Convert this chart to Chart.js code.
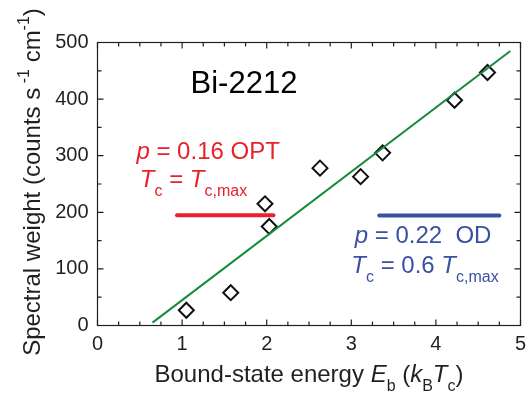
<!DOCTYPE html>
<html>
<head>
<meta charset="utf-8">
<script src="https://cdn.jsdelivr.net/npm/chart.js@4"></script>
<style>
  html, body { margin: 0; padding: 0; background: #fff; }
</style>
</head>
<body>
<canvas id="chart" width="531" height="393"></canvas>
<script>
// measured points
const energy = [1.05, 1.575, 1.98, 2.03, 2.63, 3.11, 3.37, 4.22, 4.61];
const weight = [27, 58, 215, 175, 278, 263, 305, 398, 447];

// linear fit drawn across the data
const fitX = [0.65, 4.88];
const fitY = [5, 485];

// the two reference bars
const optX = [0.94, 2.08];
const optY = [195, 195];
const odX = [3.33, 4.75];
const odY = [194.5, 194.5];

const xTicks = [0, 1, 2, 3, 4, 5];
const yTicks = [0, 100, 200, 300, 400, 500];
const xMinorStep = 0.25;
const yMinorStep = 50;

const INK = '#231f20';
const RED = '#e8212b';
const BLUE = '#3a51a3';
const GREEN = '#178a3d';
const FONT = '"Liberation Sans", Arial, Helvetica, sans-serif';

function pairs(xs, ys) {
  return xs.map((v, i) => ({x: v, y: ys[i]}));
}

// rich text: parts are [text, style], style in '', 'i', 'sub', 'sup'
function fontFor(s, size) {
  const small = s.indexOf('sub') >= 0 || s.indexOf('sup') >= 0;
  const italic = s.indexOf('i') === 0;
  return (italic ? 'italic ' : '') + (small ? Math.round(size * 0.68) : size) + 'px ' + FONT;
}
function richWidth(ctx, parts, size) {
  let w = 0;
  parts.forEach(([t, s]) => {
    ctx.font = fontFor(s, size);
    w += ctx.measureText(t).width;
  });
  return w;
}
function drawRich(ctx, parts, x, y, size, color) {
  ctx.fillStyle = color;
  ctx.textBaseline = 'alphabetic';
  ctx.textAlign = 'left';
  let cx = x;
  parts.forEach(([t, s]) => {
    ctx.font = fontFor(s, size);
    let dy = 0;
    if (s.indexOf('sub') >= 0) dy = size * 0.36;
    if (s.indexOf('sup') >= 0) dy = -size * 0.45;
    ctx.fillText(t, cx, y + dy);
    cx += ctx.measureText(t).width;
  });
}

const notes = [
  {x: 1.10, y: 411, size: 31, color: '#000', parts: [['Bi-2212', '']]},
  {x: 0.46, y: 295, size: 24, color: RED, parts: [['p', 'i'], [' = 0.16 OPT', '']]},
  {x: 0.50, y: 244, size: 24, color: RED, parts: [['T', 'i'], ['c', 'sub'], [' = ', ''], ['T', 'i'], ['c,max', 'sub']]},
  {x: 3.04, y: 145, size: 24, color: BLUE, parts: [['p', 'i'], [' = 0.22  OD', '']]},
  {x: 3.00, y: 92, size: 24, color: BLUE, parts: [['T', 'i'], ['c', 'sub'], [' = 0.6 ', ''], ['T', 'i'], ['c,max', 'sub']]}
];

const xTitle = [['Bound-state energy ', ''], ['E', 'i'], ['b', 'sub'], [' (', ''], ['k', 'i'], ['B', 'sub'], ['T', 'i'], ['c', 'sub'], [')', '']];
const yTitle = [['Spectral weight (counts s', ''], [' -1', 'sup'], [' cm', ''], ['-1', 'sup'], [')', '']];

const frame = {
  id: 'frame',
  beforeDatasetsDraw(chart) {
    const {ctx, chartArea: a, scales: {x, y}} = chart;
    ctx.save();
    ctx.strokeStyle = INK;
    ctx.lineWidth = 1.2;
    ctx.strokeRect(a.left, a.top, a.right - a.left, a.bottom - a.top);
    ctx.beginPath();
    for (let v = x.min; v <= x.max + 1e-9; v += xMinorStep) {
      const px = x.getPixelForValue(v);
      const len = xTicks.includes(v) ? 6 : 4;
      ctx.moveTo(px, a.bottom); ctx.lineTo(px, a.bottom - len);
      ctx.moveTo(px, a.top); ctx.lineTo(px, a.top + len);
    }
    for (let v = y.min; v <= y.max + 1e-9; v += yMinorStep) {
      const py = y.getPixelForValue(v);
      const len = yTicks.includes(v) ? 6 : 4;
      ctx.moveTo(a.left, py); ctx.lineTo(a.left + len, py);
      ctx.moveTo(a.right, py); ctx.lineTo(a.right - len, py);
    }
    ctx.stroke();
    ctx.restore();
  },
  afterDraw(chart) {
    const {ctx, chartArea: a, scales: {x, y}} = chart;
    ctx.save();
    notes.forEach(n => {
      drawRich(ctx, n.parts, x.getPixelForValue(n.x), y.getPixelForValue(n.y), n.size, n.color);
    });

    // axis titles
    const ts = 24;
    const xw = richWidth(ctx, xTitle, ts);
    drawRich(ctx, xTitle, (a.left + a.right) / 2 - xw / 2, 382, ts, INK);

    const yw = richWidth(ctx, yTitle, ts);
    ctx.translate(40, (a.top + a.bottom) / 2 - 2);
    ctx.rotate(-Math.PI / 2);
    drawRich(ctx, yTitle, -yw / 2, 0, ts, INK);
    ctx.restore();
  }
};

new Chart(document.getElementById('chart'), {
  type: 'scatter',
  data: {
    datasets: [
      {
        data: pairs(fitX, fitY),
        showLine: true,
        borderColor: GREEN,
        borderWidth: 2,
        pointRadius: 0
      },
      {
        data: pairs(optX, optY),
        showLine: true,
        borderColor: RED,
        borderWidth: 4,
        borderCapStyle: 'round',
        pointRadius: 0
      },
      {
        data: pairs(odX, odY),
        showLine: true,
        borderColor: BLUE,
        borderWidth: 4,
        borderCapStyle: 'round',
        pointRadius: 0
      },
      {
        data: pairs(energy, weight),
        pointStyle: 'rectRot',
        pointRadius: 7.5,
        pointBorderWidth: 2,
        pointBorderColor: '#111',
        pointBackgroundColor: 'rgba(255,255,255,0)'
      }
    ]
  },
  options: {
    responsive: false,
    animation: false,
    devicePixelRatio: 1,
    layout: { padding: { top: 42.5, right: 10.5, left: 0, bottom: 0 } },
    plugins: {
      legend: { display: false },
      tooltip: { enabled: false }
    },
    scales: {
      x: {
        type: 'linear',
        min: 0,
        max: 5,
        afterBuildTicks: s => { s.ticks = xTicks.map(v => ({value: v})); },
        afterFit: s => { s.height = 67.5; s.paddingLeft = 0; s.paddingRight = 0; },
        grid: { display: false, drawTicks: false },
        border: { display: false },
        ticks: { color: INK, padding: 7, font: { family: FONT, size: 20 } }
      },
      y: {
        type: 'linear',
        min: 0,
        max: 500,
        afterBuildTicks: s => { s.ticks = yTicks.map(v => ({value: v})); },
        afterFit: s => { s.width = 97.5; s.paddingTop = 0; s.paddingBottom = 0; },
        grid: { display: false, drawTicks: false },
        border: { display: false },
        ticks: { color: INK, padding: 9, font: { family: FONT, size: 20 } }
      }
    }
  },
  plugins: [frame]
});
</script>
</body>
</html>
